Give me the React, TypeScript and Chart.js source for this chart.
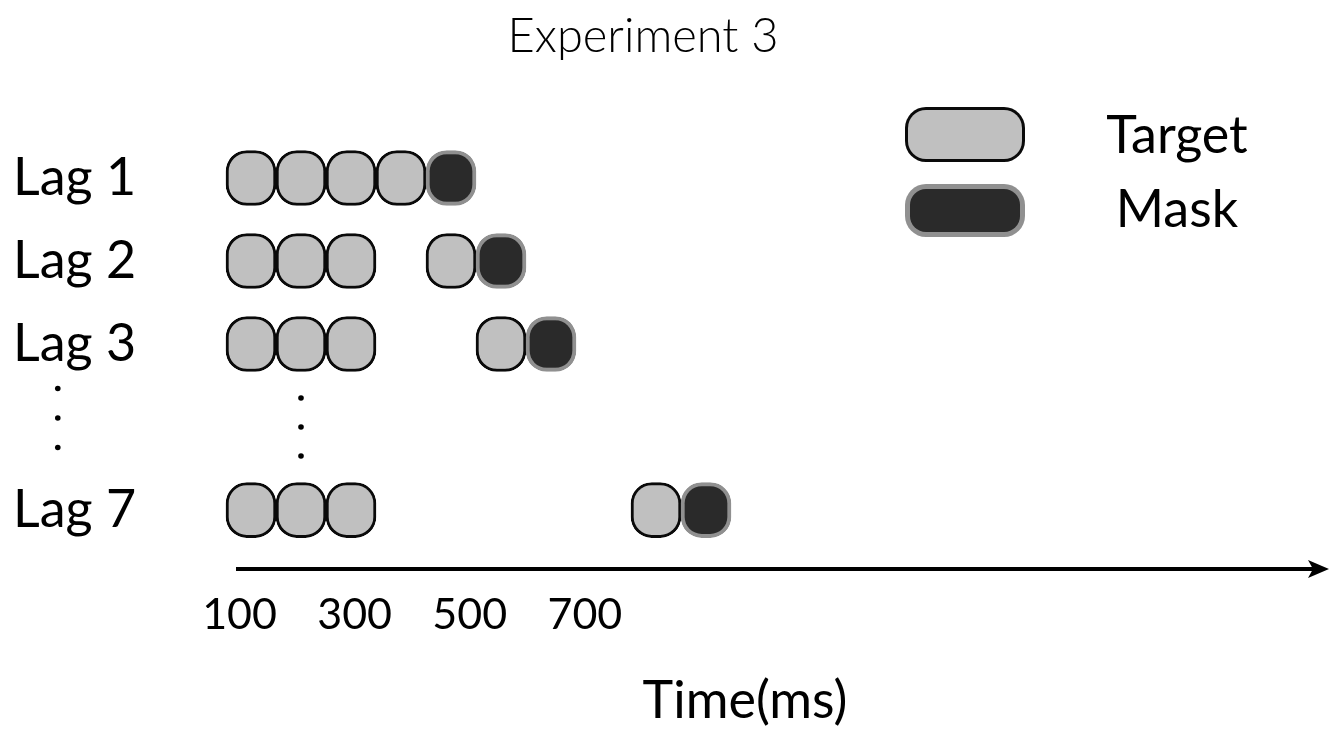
import React, { useEffect, useRef } from "react";
import { Chart, registerables } from "chart.js";

Chart.register(...registerables);

// ---------- data ----------
const chartTitle = "Experiment 3";
const axisTitle = "Time(ms)";
const rowLabels = ["Lag 1", "Lag 2", "Lag 3", "Lag 7"];
const rowPositions = [0, 1, 2, 4]; // row order on the y axis (3 = the "..." row)
const ellipsisRow = 3;
const streamOnsets = [0, 1, 2]; // leading targets, in item slots
const lagTargetOnsets = [3, 4, 5, 8.1]; // lagged target per row
const maskOnsets = [4, 5, 6, 9.1]; // mask per row
const itemDuration = 1;
const timeTicks = [100, 300, 500, 700];
const legendLabels = ["Target", "Mask"];

// ---------- styles ----------
const TARGET_FILL = "#c0c0c0";
const TARGET_BORDER = "#0a0a0a";
const MASK_FILL = "#2a2a2a";
const MASK_BORDER = "#909090";
const FONT = "Lato";

const barStyle = {
  maxBarThickness: 55,
  barPercentage: 1,
  categoryPercentage: 1,
  borderRadius: 21,
  borderSkipped: false as const,
  grouped: false,
  clip: false as const,
};

function rowData(onsets: number[]) {
  return rowPositions.map((y, i) => ({ x: [onsets[i], onsets[i] + itemDuration], y }));
}

const decorPlugin = {
  id: "decor",
  afterDraw(chart: any) {
    const { ctx, scales } = chart;
    const xs = scales.x;
    const ys = scales.y;
    const ts = scales.xTime;
    ctx.save();

    // title
    ctx.fillStyle = "#000";
    ctx.textAlign = "center";
    ctx.textBaseline = "alphabetic";
    ctx.font = `300 47px ${FONT}`;
    ctx.fillText(chartTitle, 643, 52);

    // axis title
    ctx.font = `52px ${FONT}`;
    ctx.fillText(axisTitle, 745, 718);

    // arrow head at end of time axis
    const ay = ts.top;
    const r = ts.right;
    ctx.beginPath();
    ctx.moveTo(r + 17, ay);
    ctx.lineTo(r - 4, ay - 9);
    ctx.lineTo(r + 1, ay);
    ctx.lineTo(r - 4, ay + 9);
    ctx.closePath();
    ctx.fill();

    // ellipsis dots
    const cy = ys.getPixelForValue(ellipsisRow);
    ctx.font = `52px ${FONT}`;
    const lx = ys.left + ctx.measureText("Lag").width / 2 + 5;
    const rx = xs.getPixelForValue(1.5);
    for (const k of [-1, 0, 1]) {
      ctx.beginPath();
      ctx.arc(lx, cy - 9 + k * 29.5, 2.8, 0, Math.PI * 2);
      ctx.fill();
      ctx.beginPath();
      ctx.arc(rx, cy + k * 29, 2.8, 0, Math.PI * 2);
      ctx.fill();
    }

    // legend
    const boxes = [
      { top: 107, h: 55 },
      { top: 184, h: 53 },
    ];
    legendLabels.forEach((lab, i) => {
      const ds = chart.data.datasets.find((d: any) => d.label === lab);
      const b = boxes[i];
      const bw = ds.borderWidth + (lab === "Mask" ? 1 : 0);
      ctx.fillStyle = ds.borderColor;
      ctx.beginPath();
      ctx.roundRect(905, b.top, 120, b.h, 21);
      ctx.fill();
      ctx.fillStyle = ds.backgroundColor;
      ctx.beginPath();
      ctx.roundRect(905 + bw, b.top + bw, 120 - 2 * bw, b.h - 2 * bw, 21 - bw);
      ctx.fill();
      ctx.fillStyle = "#000";
      ctx.font = `52px ${FONT}`;
      ctx.textAlign = "center";
      ctx.fillText(lab, 1177, i === 0 ? 153 : 227);
    });

    ctx.restore();
  },
};

export default function App() {
  const ref = useRef<HTMLCanvasElement | null>(null);

  useEffect(() => {
    if (!ref.current) return;
    const datasets: any[] = [
      {
        label: "Mask",
        data: rowData(maskOnsets),
        backgroundColor: MASK_FILL,
        borderColor: MASK_BORDER,
        borderWidth: 4,
        ...barStyle,
      },
      {
        label: "Target",
        data: rowData(lagTargetOnsets),
        backgroundColor: TARGET_FILL,
        borderColor: TARGET_BORDER,
        borderWidth: 3,
        ...barStyle,
      },
      ...streamOnsets.map((on) => ({
        label: "Target",
        data: rowData(rowPositions.map(() => on)),
        backgroundColor: TARGET_FILL,
        borderColor: TARGET_BORDER,
        borderWidth: 3,
        ...barStyle,
      })),
    ];

    const chart = new Chart(ref.current, {
      type: "bar",
      data: { datasets },
      options: {
        indexAxis: "y",
        animation: false,
        responsive: true,
        maintainAspectRatio: false,
        events: [],
        layout: { padding: { top: 136.5, left: 13, right: 27, bottom: 76.4 } },
        plugins: {
          legend: { display: false },
          tooltip: { enabled: false },
          title: { display: false },
        },
        scales: {
          x: {
            type: "linear",
            display: false,
            min: 0.24,
            max: 21.72,
          },
          xTime: {
            type: "linear",
            position: "bottom",
            axis: "x",
            min: 97.3,
            max: 1963.5,
            grid: { display: false, drawTicks: false },
            border: { display: true, color: "#000", width: 4 },
            afterBuildTicks: (s: any) => {
              s.ticks = timeTicks.map((v) => ({ value: v }));
            },
            ticks: {
              autoSkip: false,
              maxRotation: 0,
              padding: 20,
              color: "#000",
              font: { family: FONT, size: 43 },
              callback: (v: any) => String(v),
            },
          },
          y: {
            type: "linear",
            reverse: true,
            offset: false,
            min: -0.5,
            max: 4.71,
            grid: { display: false, drawTicks: false },
            border: { display: false },
            afterBuildTicks: (s: any) => {
              s.ticks = rowPositions.map((v) => ({ value: v }));
            },
            afterFit: (s: any) => {
              s.width = 225;
            },
            ticks: {
              autoSkip: false,
              crossAlign: "far",
              color: "#000",
              font: { family: FONT, size: 52 },
              callback: (v: any) => rowLabels[rowPositions.indexOf(v)] ?? "",
            },
          },
        },
      } as any,
      plugins: [decorPlugin],
    });
    return () => chart.destroy();
  }, []);

  return (
    <div style={{ position: "fixed", left: 0, top: 0, width: 1339, height: 737, background: "#fff" }}>
      <canvas ref={ref} />
    </div>
  );
}
